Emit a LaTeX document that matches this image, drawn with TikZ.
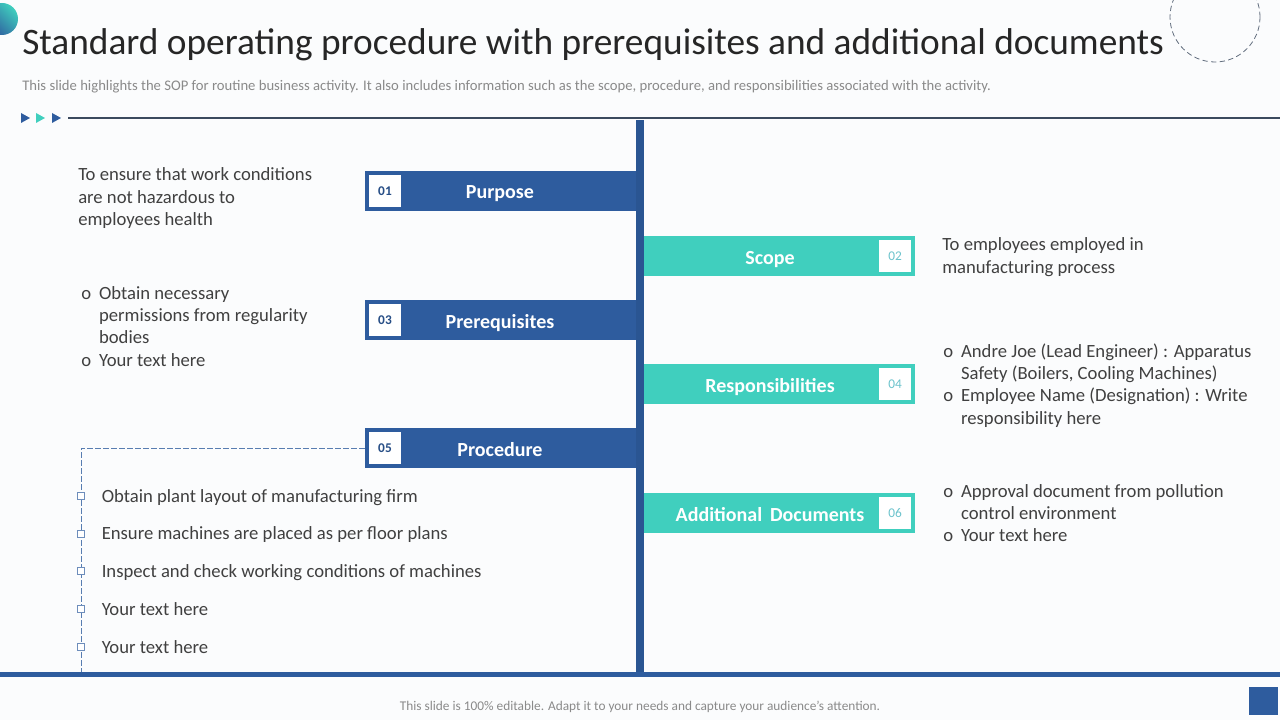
\documentclass[tikz,border=0pt]{standalone}
\usepackage{fontspec}
\setmainfont{Carlito}
\usetikzlibrary{shapes,arrows}
\definecolor{sopblue}{HTML}{2E5C9E}
\definecolor{spineblue}{HTML}{2A5592}
\definecolor{sopteal}{HTML}{40CFBE}
\definecolor{numteal}{HTML}{6CC3CC}
\definecolor{titlegray}{HTML}{262626}
\definecolor{bodygray}{HTML}{404040}
\definecolor{subgray}{HTML}{8A8A8A}
\definecolor{pagebg}{HTML}{FBFCFD}
\definecolor{rulegray}{HTML}{3B4A5E}

\begin{document}
\begin{tikzpicture}[x=0.75pt,y=-0.75pt,
                    every node/.style={inner sep=0pt},
                    lbar/.style={fill=sopblue,minimum width=203.25pt,minimum height=30pt},
                    rbar/.style={fill=sopteal,minimum width=203.25pt,minimum height=30pt},
                    numbox/.style={fill=white,minimum size=24pt},
                    lnum/.style={text=sopblue!85!black,font=\fontsize{10}{12}\selectfont\bfseries},
                    rnum/.style={text=numteal,font=\fontsize{10}{12}\selectfont},
                    barlabel/.style={anchor=base,text=white,font=\fontsize{15}{18}\selectfont\bfseries},
                    body/.style={anchor=base west,text=bodygray,font=\fontsize{14}{16.8}\selectfont},
                    tick/.style={draw=sopblue!70,fill=white,line width=0.6pt,minimum size=5.25pt}]
  \fill[pagebg] (0,0) rectangle (1280,720);
  \useasboundingbox (0,0) rectangle (1280,720);

  % header
  \shade[top color=sopteal,bottom color=sopblue,shading angle=-45] (2,19) circle (16);
  \draw[rulegray!80,dashed,dash pattern=on 4pt off 2.5pt,line width=0.6pt] (1215,17) circle (45);
  \node[anchor=base west,text=titlegray,font=\fontsize{28}{33}\selectfont] (title) at (22,55)
       {Standard operating procedure with prerequisites and additional documents};
  \node[anchor=base west,text=subgray,font=\fontsize{11}{13}\selectfont] (subtitle) at (22,91)
       {This slide highlights the SOP for routine business activity. It also includes information such as the scope, procedure, and responsibilities associated with the activity.};
  \foreach \x/\c in {21/sopblue,36/sopteal,52/sopblue}
    \fill[\c] (\x,113) -- (\x+9,118) -- (\x,123) -- cycle;
  \draw[rulegray,line width=0.8pt] (68,118) -- (1280,118);

  % spine and bottom band
  \fill[spineblue] (636,120) rectangle (644,672);
  \fill[sopblue] (0,672) rectangle (1280,677);
  \fill[sopblue] (1249,687) rectangle (1278,715);

  % left bars
  \node[lbar]   (purpose)   at (500.5,191) {};
  \node[numbox] (n01)       at (385,191)   {};
  \node[lnum]   (t01)       at (n01)       {01};
  \node[barlabel] (lpurpose) at (500,199)  {Purpose};

  \node[lbar]   (prereq)    at (500.5,320) {};
  \node[numbox] (n03)       at (385,320)   {};
  \node[lnum]   (t03)       at (n03)       {03};
  \node[barlabel] (lprereq) at (500,328)   {Prerequisites};

  \node[lbar]   (procedure) at (500.5,448) {};
  \node[numbox] (n05)       at (385,448)   {};
  \node[lnum]   (t05)       at (n05)       {05};
  \node[barlabel] (lprocedure) at (500,456) {Procedure};

  % right bars
  \node[rbar]   (scope)     at (779.5,256) {};
  \node[numbox] (n02)       at (895,256)   {};
  \node[rnum]   (t02)       at (n02)       {02};
  \node[barlabel] (lscope)  at (770,264)   {Scope};

  \node[rbar]   (resp)      at (779.5,384) {};
  \node[numbox] (n04)       at (895,384)   {};
  \node[rnum]   (t04)       at (n04)       {04};
  \node[barlabel] (lresp)   at (770,392)   {Responsibilities};

  \node[rbar]   (adddocs)   at (779.5,513) {};
  \node[numbox] (n06)       at (895,513)   {};
  \node[rnum]   (t06)       at (n06)       {06};
  \node[barlabel] (ladddocs) at (770,521)  {Additional\, Documents};

  % texts
  \node[body] (purposetxt) at (78,181)
       {\begin{tabular}[t]{@{}l@{}}To ensure that work conditions\\ are not hazardous to\\ employees health\end{tabular}};
  \node[body] (prereqtxt) at (81,299)
       {\begin{tabular}[t]{@{}l@{\hspace{6pt}}l@{}}o & Obtain necessary\\ & permissions from regularity\\ & bodies\\ o & Your text here\end{tabular}};
  \node[body] (scopetxt) at (942,251)
       {\begin{tabular}[t]{@{}l@{}}To employees employed in\\ manufacturing process\end{tabular}};
  \node[body] (resptxt) at (943,357)
       {\begin{tabular}[t]{@{}l@{\hspace{6pt}}l@{}}o & Andre Joe (Lead Engineer) : Apparatus\\ & Safety (Boilers, Cooling Machines)\\ o & Employee Name (Designation) : Write\\ & responsibility here\end{tabular}};
  \node[body] (adddocstxt) at (943,497)
       {\begin{tabular}[t]{@{}l@{\hspace{6pt}}l@{}}o & Approval document from pollution\\ & control environment\\ o & Your text here\end{tabular}};

  % procedure steps
  \coordinate (dashend) at (81,672);
  \draw[sopblue!80,dashed,dash pattern=on 4pt off 2pt,line width=0.6pt] (procedure.west) -| (dashend);
  \foreach \y/\t [count=\i] in {502/Obtain plant layout of manufacturing firm,
                                539.5/Ensure machines are placed as per floor plans,
                                577/Inspect and check working conditions of machines,
                                615/Your text here,
                                653/Your text here}{
    \node[tick] (tick\i) at (81,\y-6) {};
    \node[body] (step\i) at (101.5,\y) {\t};
  }

  \node[anchor=base,text=subgray,font=\fontsize{10}{12}\selectfont] (footer) at (640,710)
       {This slide is 100\% editable. Adapt it to your needs and capture your audience’s attention.};
\end{tikzpicture}
\end{document}
